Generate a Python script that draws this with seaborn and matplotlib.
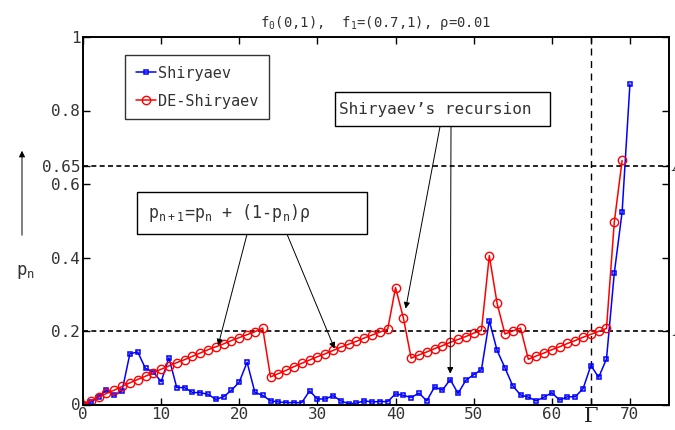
import numpy as np
import pandas as pd
import matplotlib
matplotlib.use("Agg")
import matplotlib.pyplot as plt
from matplotlib.patches import Rectangle, FancyArrowPatch
import seaborn as sns

# ---- data ----
n_blue = list(range(0, 71))
shiryaev = [0.0, 0.006, 0.021, 0.039, 0.025, 0.037, 0.138, 0.143, 0.098, 0.089,
            0.062, 0.127, 0.046, 0.046, 0.033, 0.032, 0.028, 0.014, 0.021, 0.039,
            0.061, 0.115, 0.033, 0.025, 0.010, 0.007, 0.005, 0.005, 0.005, 0.037,
            0.015, 0.015, 0.024, 0.010, 0.002, 0.004, 0.010, 0.007, 0.008, 0.008,
            0.029, 0.025, 0.019, 0.031, 0.010, 0.048, 0.039, 0.068, 0.030, 0.066,
            0.081, 0.095, 0.228, 0.147, 0.100, 0.051, 0.026, 0.020, 0.010, 0.020,
            0.032, 0.012, 0.021, 0.021, 0.043, 0.106, 0.074, 0.124, 0.358, 0.524,
            0.872]
n_red = list(range(0, 70))
de_shiryaev = [0.000, 0.010, 0.020, 0.030, 0.039, 0.049, 0.059, 0.068, 0.077, 0.086,
               0.096, 0.105, 0.114, 0.122, 0.131, 0.140, 0.149, 0.157, 0.165, 0.174,
               0.182, 0.190, 0.198, 0.208, 0.075, 0.084, 0.093, 0.103, 0.112, 0.121,
               0.130, 0.138, 0.147, 0.156, 0.164, 0.172, 0.181, 0.189, 0.197, 0.205,
               0.318, 0.236, 0.126, 0.135, 0.143, 0.152, 0.160, 0.169, 0.177, 0.185,
               0.194, 0.202, 0.405, 0.275, 0.192, 0.200, 0.208, 0.123, 0.132, 0.140,
               0.149, 0.157, 0.166, 0.174, 0.183, 0.191, 0.199, 0.207, 0.497, 0.664]
x_ticks = [0, 10, 20, 30, 40, 50, 60, 65, 70]
x_tick_labels = ["0", "10", "20", "30", "40", "50", "60", "Γ", "70"]
y_ticks = [0, 0.2, 0.4, 0.6, 0.65, 0.8, 1]
y_tick_labels = ["0", "0.2", "0.4", "0.6", "0.65", "0.8", "1"]
thresh_A = 0.65
thresh_B = 0.2
gamma = 65

sns.set_style("ticks")
plt.rcParams['font.family'] = ['DejaVu Sans Mono', 'DejaVu Sans']
plt.rcParams['mathtext.default'] = 'regular'

fig = plt.figure(figsize=(6.75, 4.3), dpi=100)
ax = fig.add_axes([83/675, 1-404.5/430, 586/675, 367.5/430])

df_b = pd.DataFrame({"n": n_blue, "p": shiryaev})
df_r = pd.DataFrame({"n": n_red, "p": de_shiryaev})

sns.lineplot(data=df_b, x="n", y="p", ax=ax, color="blue", lw=1.1,
             marker="s", markersize=3.3, markerfacecolor="none",
             markeredgecolor="blue", markeredgewidth=1.1, label="Shiryaev")
sns.lineplot(data=df_r, x="n", y="p", ax=ax, color="red", lw=1.1,
             marker="o", markersize=6, markerfacecolor="none",
             markeredgecolor="red", markeredgewidth=1.0, label="DE-Shiryaev")

ax.axhline(thresh_A, color="k", ls=(0, (3, 2)), lw=1.2, zorder=1)
ax.axhline(thresh_B, color="k", ls=(0, (3, 2)), lw=1.2, zorder=1)
ax.axvline(gamma, color="k", ls=(0, (5, 4)), lw=1.0, zorder=1)

ax.set_xlim(0, 75)
ax.set_ylim(0, 1)
ax.set_xticks(x_ticks)
ax.set_xticklabels(x_tick_labels)
ax.set_yticks(y_ticks)
ax.set_yticklabels(y_tick_labels)
ax.tick_params(direction="in", top=True, right=True, length=5, width=1,
               labelsize=11.5, colors="k", labelcolor="#333333", pad=2)
for lab in ax.get_xticklabels():
    if lab.get_text() == "Γ":
        lab.set_fontfamily("DejaVu Serif")
        lab.set_fontsize(15)
        lab.set_color("#222222")
for s in ax.spines.values():
    s.set_linewidth(1.4)
    s.set_color("k")
ax.set_xlabel("")
ax.set_ylabel("")

ax.set_title("f$_0$(0,1),  f$_1$=(0.7,1), ρ=0.01", fontsize=10, color="#333333", pad=7)

leg = ax.legend(loc="upper left", bbox_to_anchor=(0.072, 0.951), borderaxespad=0,
                fontsize=11, frameon=True, fancybox=False, handlelength=1.3,
                handletextpad=0.15, borderpad=0.7, labelspacing=0.85)
leg.get_frame().set_edgecolor("k")
leg.get_frame().set_linewidth(1.0)
for t in leg.get_texts():
    t.set_color("#333333")

arrow = dict(arrowstyle="-|>", color="k", lw=0.7, mutation_scale=9, shrinkA=0, shrinkB=0)

# box 1 (formula)
ax.add_patch(Rectangle((6.9, 0.464), 29.4, 0.114, fc="white", ec="k", lw=1.0, zorder=5))
ax.text(8.3, 0.521, "p$_{n+1}$=p$_n$ + (1-p$_n$)ρ", fontsize=12, color="#333333",
        va="center", ha="left", zorder=6)
ax.annotate("", xy=(17.3, 0.161), xytext=(21.0, 0.464), arrowprops=arrow, zorder=4)
ax.annotate("", xy=(32.2, 0.152), xytext=(26.1, 0.464), arrowprops=arrow, zorder=4)

# box 2 (Shiryaev's recursion)
ax.add_patch(Rectangle((32.2, 0.757), 27.6, 0.093, fc="white", ec="k", lw=1.0, zorder=5))
ax.text(32.8, 0.804, "Shiryaev’s recursion", fontsize=11.5, color="#333333",
        va="center", ha="left", zorder=6)
ax.annotate("", xy=(41.3, 0.261), xytext=(45.7, 0.757), arrowprops=arrow, zorder=4)
ax.annotate("", xy=(47.0, 0.084), xytext=(47.1, 0.757), arrowprops=arrow, zorder=4)

ax.text(75.4, thresh_A, "A", fontsize=13, family="DejaVu Serif", style="italic",
        va="center", ha="left", clip_on=False, color="#333333")
ax.text(75.4, thresh_B, "B", fontsize=13, family="DejaVu Serif", style="italic",
        va="center", ha="left", clip_on=False, color="#333333")

# y label with arrow
fig.text(16/675, 1-272/430, "p$_n$", fontsize=12.5, color="#333333", ha="left", va="center")
fig.add_artist(FancyArrowPatch((22/675, 1-238/430), (22/675, 1-148/430),
               transform=fig.transFigure, arrowstyle="-|>", mutation_scale=9,
               color="k", lw=0.7))

fig.savefig("out.png", dpi=100)
